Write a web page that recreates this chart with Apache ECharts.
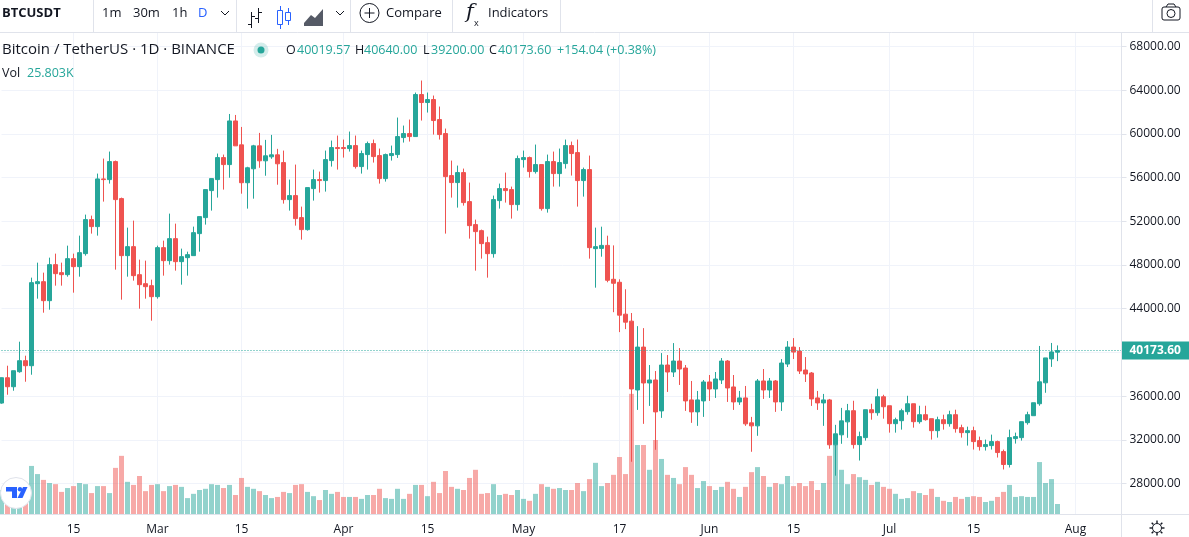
<!DOCTYPE html>
<html><head><meta charset="utf-8">
<style>html,body{margin:0;padding:0;background:#fff;overflow:hidden}#c{width:1189px;height:537px}</style>
<script src="https://cdn.jsdelivr.net/npm/echarts@6/dist/echarts.min.js"></script>
</head><body><div id="c"></div>
<script>
const opens=[35363,37682,36858,38232,39240,38781,46292,46475,44735,48032,47300,47116,48582,47849,49040,52154,51513,55878,55817,57466,54077,48857,49681,47116,46292,46109,45101,49589,48398,50414,48307,48673,48857,50872,52337,54810,55817,57832,57191,61186,58997,55531,56808,58906,57538,57902,58085,57374,53986,54352,52337,51238,54993,55817,55726,57558,58748,58748,58657,58931,57008,58107,59115,58016,55909,58016,58107,59664,60031,59756,63603,62870,63145,61313,60031,56184,55543,56459,53802,51696,51146,50047,49039,53894,54993,54902,53528,57649,57832,56550,57191,53161,57466,56367,57283,58931,58290,55726,56733,49497,49521,49795,46692,46419,43498,42859,36562,40487,37201,37475,34646,38844,38205,39209,38570,35650,34555,35559,37293,36654,37475,39209,36836,35467,35832,33551,33277,37384,36562,37384,35467,38935,40487,40122,38388,38114,35832,35376,35650,31543,32456,33642,34662,31562,32200,34754,34480,35939,35118,33477,33750,34571,35301,33659,34298,33933,32838,33842,33477,34298,33112,32656,32838,31926,31379,31470,31835,30923,29738,32109,32200,33568,34206,35301,37216,39405,40019.57];
const closes=[37682,36858,38324,39240,38781,46384,46475,44735,48032,47208,47116,48582,47849,49131,52154,51513,55878,55817,57466,53986,48857,49681,47025,46200,46017,45101,49589,48398,50414,48307,48765,48948,50963,52428,54901,55909,57832,57191,61186,58906,55531,56899,58906,57538,57994,58085,57264,53986,54352,52245,51238,55085,55817,55726,57649,58748,58657,58657,58931,57008,58199,59115,57924,55909,58107,58199,59756,60031,59756,63603,62870,63145,61221,59939,56092,55543,56459,53711,51604,51055,49956,49039,53986,54993,54810,53528,57741,57832,56550,57191,53161,57466,56367,57374,58931,58199,55726,56733,49589,49681,49795,46601,46327,43407,42768,36654,40487,37201,37475,34555,38844,38205,39209,38479,35559,34555,35650,37293,36654,37566,39209,36745,35467,35832,33460,33277,37384,36562,37384,35467,39027,40487,40030,38296,38023,35741,35376,35650,31543,32547,33733,34662,31562,32291,34754,34480,35939,35027,33477,33842,34662,35301,33659,34298,33842,32838,33842,33477,34298,33021,32656,32838,31835,31379,31562,31835,30832,29738,32200,32291,33659,34298,35392,37307,39496,40043,40173.6];
const highs=[37700,38781,38324,40980,39698,46842,48215,47300,48673,49040,48215,49772,49040,50688,52612,52520,56367,57741,58382,57558,54169,51421,52062,48490,48398,46658,49772,50230,52703,51787,49498,49222,51513,52428,54901,55909,58199,58107,61824,61733,60638,56990,58997,60091,59453,59909,58632,58473,55817,57191,53344,55085,56733,56550,58473,59389,59847,59481,60214,59847,58473,59298,59481,58657,58199,58931,61496,60763,61313,63786,64885,63786,63511,62503,60488,57558,57100,56825,55543,52154,51238,50597,54352,55451,56459,55176,58016,58473,57924,59023,57191,58107,58382,58657,59481,59298,59481,56916,58016,51421,51508,50684,49795,46692,45780,43604,42403,42221,38844,38296,39939,39757,40852,40395,38844,37384,36471,37475,37931,38205,39483,39300,37931,36471,36928,34098,37566,38479,37658,37475,39392,41034,41308,40487,39574,38205,36471,36198,35741,33369,34920,35285,35574,32747,34754,35301,36669,36122,35118,34024,34845,36030,35301,35118,35118,33933,34115,34298,34662,34754,33386,33203,33203,32291,32018,32474,31926,31106,32930,32656,33659,34571,35392,40590,39496,40864,40640];
const lows=[35300,36126,36492,38140,37316,37957,44918,43636,43911,46109,46109,46933,45468,46933,48857,50872,50688,53802,55451,47574,44827,46933,46567,44002,44918,42903,44918,47025,48032,47483,46200,47025,48857,49222,51696,52978,54169,54901,55987,58906,54528,53160,54072,56899,56170,57720,55349,53619,52978,51604,50322,51146,53894,54627,54718,57008,56733,57832,58382,56825,56367,56733,57374,55451,55634,57558,57802,59206,59298,59756,61221,61954,59939,59481,50872,54169,53253,53436,50414,47483,48582,46842,48673,53161,53711,52245,52978,56916,56001,56367,52978,52795,55176,55176,56825,56184,53344,54260,48582,45926,48760,46419,43680,41856,42130,29992,34737,33460,35102,31087,34007,36380,37749,37019,34646,33551,33277,34098,35559,35832,37110,35467,34737,35194,33277,30904,32365,35741,35832,34555,34646,38662,39392,38023,37293,35102,34737,33277,31178,28714,31635,32182,31197,30102,31926,33842,34206,33933,32656,32656,32930,34298,33112,33477,33750,32018,32200,32930,33203,32656,32200,31470,31106,31014,31014,31106,30376,29282,29464,31653,31926,33386,34206,35118,36304,38675,39200];
const volumesK=[62,72,72,72,75,124,103,88,80,77,57,67,72,80,77,54,72,72,54,119,150,83,75,98,59,75,77,59,72,75,70,41,52,62,65,77,75,67,75,49,93,70,65,59,49,41,44,57,54,75,77,57,46,36,62,52,57,44,44,44,39,49,49,65,41,39,65,39,52,75,75,46,83,54,111,70,65,62,93,114,52,54,77,49,52,49,62,39,34,52,77,70,65,67,62,62,80,59,90,132,72,80,101,147,103,310,178,178,114,191,142,101,93,77,121,101,67,85,72,62,70,83,65,44,70,108,121,98,70,80,77,98,72,80,72,85,62,80,150,178,114,77,103,95,88,75,83,70,65,52,39,41,59,54,49,65,44,34,31,44,39,44,46,44,31,34,44,57,75,44,46,44,44,134,80,90,25.803];
const firstDay='2021-02-03';
const dayCount=188;
const tickDates=['2021-02-15','2021-03-01','2021-03-15','2021-04-01','2021-04-15','2021-05-01','2021-05-17','2021-06-01','2021-06-15','2021-07-01','2021-07-15','2021-08-01'];
const tickLabels=['15','Mar','15','Apr','15','May','17','Jun','15','Jul','15','Aug'];
const priceTicks={min:28000,max:68000,step:4000};
const lastPrice=40173.6;

const UP='#26a69a',DOWN='#ef5350',INK='#131722',GRID='#f0f3fa',EDGE='#e0e3eb',BLUE='#2962ff';
const FONT='"Open Sans","Noto Sans",sans-serif';

const categories=[];
for(let k=0;k<dayCount;k++){
  categories.push(new Date(Date.parse(firstDay+'T00:00:00Z')+k*864e5).toISOString().slice(0,10));
}
const tickMap={};
tickDates.forEach((d,k)=>tickMap[d]=tickLabels[k]);
const isTick=(i,v)=>v in tickMap;

const candleData=opens.map((o,i)=>[o,closes[i],lows[i],highs[i]]);
const volumeData=volumesK.map((v,i)=>({value:v,itemStyle:{color:closes[i]>=opens[i]?'rgba(38,166,154,0.5)':'rgba(239,83,80,0.5)'}}));

/* page chrome */
const txt=(x,y,s,fill,size,weight,fam)=>({type:'text',x,y,z:50,silent:true,style:{text:s,fill,font:(weight||'normal')+' '+size+'px '+(fam||FONT),textVerticalAlign:'middle'}});
const ln=(x1,y1,x2,y2,c,w)=>({type:'line',z:50,silent:true,shape:{x1,y1,x2,y2},style:{stroke:c||EDGE,lineWidth:w||1}});
const poly=(pts,c,w)=>({type:'polyline',z:50,silent:true,shape:{points:pts},style:{stroke:c||INK,lineWidth:w||1,fill:null}});
const box=(x,y,w,h,c)=>({type:'rect',z:50,silent:true,shape:{x,y,width:w,height:h},style:{stroke:c||INK,fill:'#fff',lineWidth:1}});
const disc=(cx,cy,r,fill,stroke,z)=>({type:'circle',z:z||50,silent:true,shape:{cx,cy,r},style:{fill:fill||'none',stroke:stroke||null,lineWidth:1}});
const gearRays=[];
for(let a=0;a<8;a++){const t=a*Math.PI/4;gearRays.push(ln(1157+Math.cos(t)*5,528+Math.sin(t)*5,1157+Math.cos(t)*7.5,528+Math.sin(t)*7.5,INK,1.4));}

const chrome=[
  ln(0,32.5,1189,32.5),
  ln(93.5,0,93.5,32),ln(236.5,0,236.5,32),ln(350.5,0,350.5,32),ln(452.5,0,452.5,32),ln(560.5,0,560.5,32),ln(1152.5,0,1152.5,32),
  ln(1121.5,33,1121.5,537),ln(0,514.5,1189,514.5),
  txt(2,13,'BTCUSDT',INK,13,'bold'),
  txt(102,13.5,'1m',INK,13),txt(133,13.5,'30m',INK,13),txt(172,13.5,'1h',INK,13),txt(198,13.5,'D',BLUE,13),
  poly([[221,11],[225,15],[229,11]]),
  ln(251.5,12,251.5,28,INK),ln(248,24.5,251.5,24.5,INK),ln(251.5,16.5,255,16.5,INK),ln(258.5,8,258.5,23,INK),ln(255,18.5,258.5,18.5,INK),ln(258.5,12.5,262,12.5,INK),
  ln(280.5,6,280.5,29,BLUE),box(277.5,10.5,5,14,BLUE),ln(288.5,8,288.5,25,BLUE),box(285.5,12.5,5,8,BLUE),
  {type:'polygon',z:50,silent:true,shape:{points:[[304,26],[304,23],[311,15],[315,18],[323,9],[323,26]]},style:{fill:'#555a66'}},
  poly([[336,11],[340,15],[344,11]]),
  disc(369.5,13,9.5,'#fff',INK),ln(369.5,8,369.5,18,INK),ln(364.5,13,374.5,13,INK),
  txt(386,13.5,'Compare',INK,13),
  txt(466,13,'f',INK,21,'italic','"DejaVu Serif",serif'),txt(474,23,'x',INK,9),
  txt(488,13.5,'Indicators',INK,13),
  {type:'rect',z:50,silent:true,shape:{x:1162,y:7,width:18,height:13,r:2},style:{stroke:INK,fill:'#fff',lineWidth:1}},
  poly([[1166,7],[1168,4],[1174,4],[1176,7]]),disc(1171,13.5,4,'#fff',INK),
  disc(1157,528,4.5,'#fff',INK),...gearRays,
  txt(2,50,'Bitcoin / TetherUS · 1D · BINANCE',INK,15),
  disc(261,50,7.5,'rgba(38,166,154,0.2)'),disc(261,50,3.5,UP),
  txt(286,50,'O',INK,12.5),txt(297,50,'40019.57',UP,12.5),
  txt(355,50,'H',INK,12.5),txt(364,50,'40640.00',UP,12.5),
  txt(423,50,'L',INK,12.5),txt(431,50,'39200.00',UP,12.5),
  txt(489,50,'C',INK,12.5),txt(498,50,'40173.60',UP,12.5),
  txt(557,50,'+154.04 (+0.38%)',UP,12.5),
  txt(2,73,'Vol',INK,12.5),txt(27,73,'25.803K',UP,12.5),
  {type:'circle',z:60,silent:true,shape:{cx:16,cy:493,r:15.5},style:{fill:'#fff',stroke:'#e0e3eb',lineWidth:1}},
  {type:'polygon',z:61,silent:true,shape:{points:[[6,487],[17,487],[17,498],[12,498],[12,491.5],[6,491.5]]},style:{fill:BLUE}},
  {type:'circle',z:61,silent:true,shape:{cx:20,cy:489.3,r:2.2},style:{fill:BLUE}},
  {type:'polygon',z:61,silent:true,shape:{points:[[23,487],[27.5,487],[22.5,498],[17.5,498]]},style:{fill:BLUE}}
];

const option={
  animation:false,
  backgroundColor:'#fff',
  grid:[
    {left:1.5,top:46.5,width:1122,height:437,containLabel:false},
    {left:1.5,top:33,width:1122,height:481,containLabel:false}
  ],
  xAxis:[
    {type:'category',gridIndex:0,boundaryGap:false,data:categories,show:false},
    {type:'category',gridIndex:1,boundaryGap:false,data:categories,
      axisLine:{show:false},axisTick:{show:false},
      axisLabel:{interval:isTick,formatter:v=>tickMap[v]||'',color:INK,fontFamily:FONT,fontSize:12,margin:10,hideOverlap:false},
      splitLine:{show:true,interval:isTick,lineStyle:{color:GRID,width:1}}}
  ],
  yAxis:[
    {type:'value',gridIndex:0,position:'right',offset:-2,min:priceTicks.min,max:priceTicks.max,interval:priceTicks.step,
      axisLine:{show:false},axisTick:{show:true,length:5,lineStyle:{color:EDGE}},
      axisLabel:{color:INK,fontFamily:FONT,fontSize:12,margin:8,padding:[6,0,0,0],formatter:v=>v.toFixed(2)},
      splitLine:{show:true,lineStyle:{color:GRID,width:1}}},
    {type:'value',gridIndex:1,position:'right',min:0,max:1241,show:false,splitLine:{show:false}}
  ],
  series:[
    {type:'bar',name:'Vol',xAxisIndex:1,yAxisIndex:1,data:volumeData,barWidth:5,z:1,silent:true,clip:false},
    {type:'candlestick',name:'BTCUSDT',xAxisIndex:0,yAxisIndex:0,data:candleData,barWidth:4,z:3,silent:true,clip:false,
      itemStyle:{color:UP,color0:DOWN,borderColor:UP,borderColor0:DOWN,borderWidth:1},
      markLine:{silent:true,symbol:'none',z:4,animation:false,
        lineStyle:{color:UP,type:[1,2],width:1,opacity:1},
        label:{show:true,position:'end',distance:-2,formatter:()=>lastPrice.toFixed(2),color:'#fff',backgroundColor:UP,fontFamily:FONT,fontWeight:'bold',fontSize:12,padding:[2,12,1,8],lineHeight:15},
        data:[{yAxis:lastPrice}]}}
  ],
  graphic:chrome
};
const chart=echarts.init(document.getElementById('c'),null,{renderer:'canvas'});
chart.setOption(option);
</script></body></html>
